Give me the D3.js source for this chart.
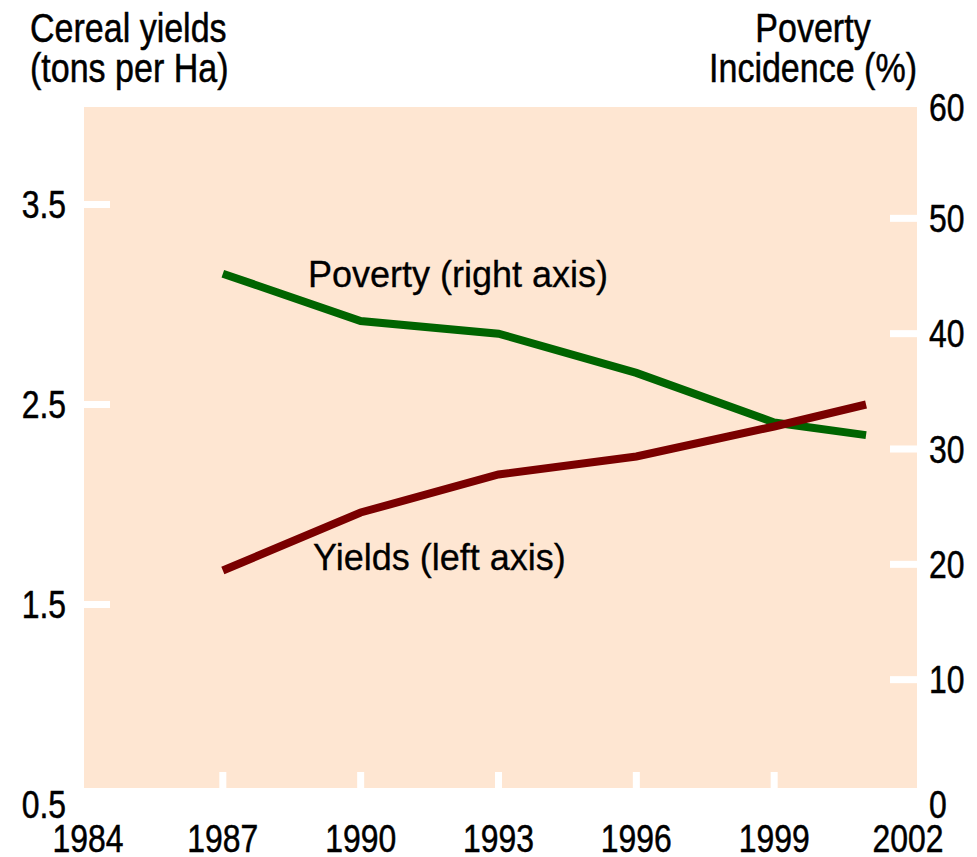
<!DOCTYPE html>
<html>
<head>
<meta charset="utf-8">
<script src="https://cdn.jsdelivr.net/npm/d3@7"></script>
<style>
  html, body { margin: 0; padding: 0; background: #ffffff; }
  svg { display: block; }
  text { font-family: "Liberation Sans", Arial, sans-serif; }
  .heavy { stroke: #000; stroke-width: 0.5; }
</style>
</head>
<body>
<svg id="chart" width="977" height="857"></svg>
<script>
// ---- data ----
const years = [1987, 1990, 1993, 1996, 1999, 2001];
const yields = [1.67, 1.96, 2.15, 2.24, 2.39, 2.50];       // tons per Ha (left axis)
const poverty = [45.2, 41.1, 40.0, 36.6, 32.3, 31.2];      // % (right axis)
const xTicks = [1984, 1987, 1990, 1993, 1996, 1999, 2002];
const leftTicks = [0.5, 1.5, 2.5, 3.5];
const rightTicks = [0, 10, 20, 30, 40, 50, 60];
const leftTitle = ["Cereal yields", "(tons per Ha)"];
const rightTitle = ["Poverty", "Incidence (%)"];
const seriesLabels = ["Poverty (right axis)", "Yields (left axis)"];

// ---- layout ----
const svg = d3.select("#chart");
const plot = { left: 84, right: 917, top: 107, bottom: 788 };
const bg = "#FEE6D2";
const green = "#006400";
const red = "#7A0000";
const condense = 0.84;

const x = d3.scaleLinear().domain([1984, 2002]).range([85, 912]);
const yL = d3.scaleLinear().domain([0.5, 4.0]).range([804.5, 104.5]);
const yR = d3.scaleLinear().domain([0, 60]).range([795, 103]);

// helper: condensed text
function narrow(sel, fx, fy, size, anchor, sx) {
  sel.attr("transform", (d, i) => `translate(${fx(d, i)},${fy(d, i)}) scale(${sx || condense},1)`)
    .attr("x", 0).attr("y", 0)
    .attr("class", "heavy")
    .attr("font-size", size)
    .attr("text-anchor", anchor)
    .attr("fill", "#000");
  return sel;
}

svg.append("rect")
  .attr("x", plot.left).attr("y", plot.top)
  .attr("width", plot.right - plot.left).attr("height", plot.bottom - plot.top)
  .attr("fill", bg);

// bottom ticks (white notches) for inner years
svg.append("g").selectAll("rect")
  .data(xTicks.filter(d => d !== 1984 && d !== 2002))
  .join("rect")
  .attr("x", d => x(d) - 3.5).attr("y", plot.bottom - 16)
  .attr("width", 7).attr("height", 16)
  .attr("fill", "#ffffff");

// left ticks
svg.append("g").selectAll("rect")
  .data(leftTicks.filter(d => d !== 0.5))
  .join("rect")
  .attr("x", plot.left).attr("y", d => yL(d) - 3.5)
  .attr("width", 26).attr("height", 7)
  .attr("fill", "#ffffff");

// right ticks
svg.append("g").selectAll("rect")
  .data(rightTicks.filter(d => d !== 0 && d !== 60))
  .join("rect")
  .attr("x", plot.right - 27).attr("y", d => yR(d) - 3.5)
  .attr("width", 27).attr("height", 7)
  .attr("fill", "#ffffff");

// x labels
narrow(svg.append("g").selectAll("text").data(xTicks).join("text").text(d => d),
  d => x(d) + (d === 1984 ? 3 : d === 2002 ? -4 : 0), () => 852, 38, "middle");

// left labels
narrow(svg.append("g").selectAll("text").data(leftTicks).join("text").text(d => d.toFixed(1)),
  () => 66, d => yL(d) + 13.5, 38, "end");

// right labels
narrow(svg.append("g").selectAll("text").data(rightTicks).join("text").text(d => d),
  () => 929, d => (d === 0 ? 804 : yR(d) + (d === 60 ? 4 : 0)) + 13.5, 38, "start");

// axis titles
narrow(svg.append("g").selectAll("text").data(leftTitle).join("text").text(d => d),
  () => 30, (d, i) => 42 + i * 40, 41, "start", 0.83);

narrow(svg.append("g").selectAll("text").data(rightTitle).join("text").text(d => d),
  () => 813, (d, i) => 42 + i * 40, 41, "middle", 0.83);

// lines
const povData = years.map((yr, i) => [yr, poverty[i]]);
const yldData = years.map((yr, i) => [yr, yields[i]]);

svg.append("path")
  .datum(povData)
  .attr("fill", "none").attr("stroke", green).attr("stroke-width", 8)
  .attr("d", d3.line().x(d => x(d[0])).y(d => yR(d[1])));

svg.append("path")
  .datum(yldData)
  .attr("fill", "none").attr("stroke", red).attr("stroke-width", 8)
  .attr("d", d3.line().x(d => x(d[0])).y(d => yL(d[1])));

// series labels
svg.append("text")
  .attr("x", 308).attr("y", 287)
  .attr("font-size", 36).attr("fill", "#000")
  .attr("class", "heavy").style("stroke-width", 0.3)
  .text(seriesLabels[0]);

svg.append("text")
  .attr("x", 313).attr("y", 570)
  .attr("font-size", 36).attr("fill", "#000")
  .attr("class", "heavy").style("stroke-width", 0.3)
  .text(seriesLabels[1]);
</script>
</body>
</html>
